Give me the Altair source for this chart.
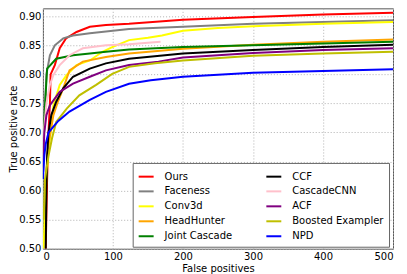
import altair as alt
import pandas as pd

methods = ["Ours", "Faceness", "Conv3d", "HeadHunter", "Joint Cascade",
           "CCF", "CascadeCNN", "ACF", "Boosted Exampler", "NPD"]
colors = ["#ff0000", "#808080", "#ffff00", "#ffa500", "#008000",
          "#000000", "#ffc0cb", "#800080", "#bfbf00", "#0000ff"]

ours_fp = [4, 6, 8, 10, 11, 17, 24, 33, 48, 67, 90, 123, 200, 300, 400, 500]
ours_tpr = [0.50, 0.62, 0.70, 0.75, 0.80, 0.816, 0.845, 0.862, 0.873, 0.882, 0.885, 0.887, 0.894, 0.899, 0.903, 0.906]

faceness_fp = [0, 1, 3, 5, 10, 17, 29, 43, 67, 123, 200, 300, 400, 500]
faceness_tpr = [0.62, 0.69, 0.747, 0.80, 0.833, 0.850, 0.862, 0.867, 0.871, 0.878, 0.882, 0.887, 0.890, 0.893]

conv3d_fp = [1, 3, 5, 8, 12, 15, 24, 34, 48, 67, 85, 99, 123, 150, 170, 200, 250, 300, 400, 500]
conv3d_tpr = [0.50, 0.57, 0.62, 0.67, 0.71, 0.747, 0.782, 0.799, 0.816, 0.824, 0.839, 0.847, 0.859, 0.863, 0.867, 0.875, 0.880, 0.883, 0.887, 0.890]

headhunter_fp = [3, 8, 15, 22, 29, 38, 57, 90, 123, 200, 300, 400, 500]
headhunter_tpr = [0.60, 0.68, 0.73, 0.755, 0.776, 0.807, 0.822, 0.830, 0.836, 0.844, 0.851, 0.856, 0.860]

joint_fp = [0, 1, 3, 6, 10, 19, 43, 67, 90, 123, 200, 300, 400, 500]
joint_tpr = [0.62, 0.68, 0.747, 0.810, 0.815, 0.827, 0.833, 0.836, 0.839, 0.843, 0.847, 0.850, 0.853, 0.856]

ccf_fp = [4, 5, 6, 8, 12, 19, 29, 43, 67, 90, 123, 200, 300, 400, 500]
ccf_tpr = [0.50, 0.60, 0.66, 0.70, 0.73, 0.753, 0.776, 0.796, 0.810, 0.819, 0.827, 0.836, 0.842, 0.847, 0.851]

cascadecnn_fp = [0, 2, 5, 10, 15, 24, 38, 57, 90, 123, 168]
cascadecnn_tpr = [0.66, 0.71, 0.75, 0.782, 0.799, 0.816, 0.833, 0.845, 0.850, 0.852, 0.856]

acf_fp = [0, 2, 5, 10, 24, 43, 67, 90, 123, 165, 200, 300, 400, 500]
acf_tpr = [0.64, 0.70, 0.73, 0.747, 0.770, 0.784, 0.796, 0.807, 0.816, 0.822, 0.829, 0.837, 0.842, 0.845]

boosted_fp = [1, 3, 8, 13, 19, 34, 52, 76, 99, 123, 160, 200, 300, 400, 500]
boosted_tpr = [0.55, 0.62, 0.66, 0.69, 0.718, 0.741, 0.764, 0.782, 0.801, 0.813, 0.819, 0.824, 0.832, 0.836, 0.839]

npd_fp = [0, 2, 4, 8, 15, 22, 38, 67, 90, 123, 154, 200, 300, 400, 500]
npd_tpr = [0.62, 0.66, 0.68, 0.70, 0.71, 0.72, 0.736, 0.756, 0.770, 0.784, 0.790, 0.796, 0.803, 0.806, 0.809]

series = [
    ("Ours", ours_fp, ours_tpr),
    ("Faceness", faceness_fp, faceness_tpr),
    ("Conv3d", conv3d_fp, conv3d_tpr),
    ("HeadHunter", headhunter_fp, headhunter_tpr),
    ("Joint Cascade", joint_fp, joint_tpr),
    ("CCF", ccf_fp, ccf_tpr),
    ("CascadeCNN", cascadecnn_fp, cascadecnn_tpr),
    ("ACF", acf_fp, acf_tpr),
    ("Boosted Exampler", boosted_fp, boosted_tpr),
    ("NPD", npd_fp, npd_tpr),
]

rows = []
for k, (name, fps, tprs) in enumerate(series):
    for i, (f, t) in enumerate(zip(fps, tprs)):
        rows.append({"method": name, "fp": f, "tpr": t, "idx": i, "z": k})
df = pd.DataFrame(rows)

chart = alt.Chart(df).mark_line(strokeWidth=2, clip=True).encode(
    x=alt.X("fp:Q",
            scale=alt.Scale(domain=[0, 500], nice=False),
            axis=alt.Axis(values=[0, 100, 200, 300, 400, 500], title="False positives",
                          labelPadding=3, titlePadding=2)),
    y=alt.Y("tpr:Q",
            scale=alt.Scale(domain=[0.5, 0.9137], nice=False, zero=False),
            axis=alt.Axis(values=[0.5, 0.55, 0.6, 0.65, 0.7, 0.75, 0.8, 0.85, 0.9],
                          format=".2f", title="True positive rate",
                          labelPadding=2, titlePadding=0)),
    color=alt.Color("method:N",
                    scale=alt.Scale(domain=methods, range=colors),
                    legend=alt.Legend(title=None, orient="none", legendX=90, legendY=155,
                                      columns=2, symbolType="stroke", symbolSize=225,
                                      symbolStrokeWidth=2, labelFontSize=10,
                                      labelFont="DejaVu Sans", labelOffset=10,
                                      rowPadding=1, columnPadding=30, padding=5,
                                      strokeColor="#666666", fillColor="white")),
    detail="z:N",
    order=alt.Order("idx:Q"),
).properties(
    width=351, height=241,
    autosize=alt.AutoSizeParams(type="none"),
    padding={"left": 35, "top": 0, "right": 6, "bottom": 25},
).configure_view(
    stroke="#555555", strokeWidth=1
).configure_axis(
    labelFont="DejaVu Sans", titleFont="DejaVu Sans",
    labelFontSize=10, titleFontSize=10, titleFontWeight="normal",
    labelColor="black", titleColor="black",
    domain=False, ticks=False,
    gridColor="#b0b0b0", gridDash=[1, 2], gridWidth=1,
)

chart.save("out.html", embed_options={"renderer": "svg", "actions": False})
